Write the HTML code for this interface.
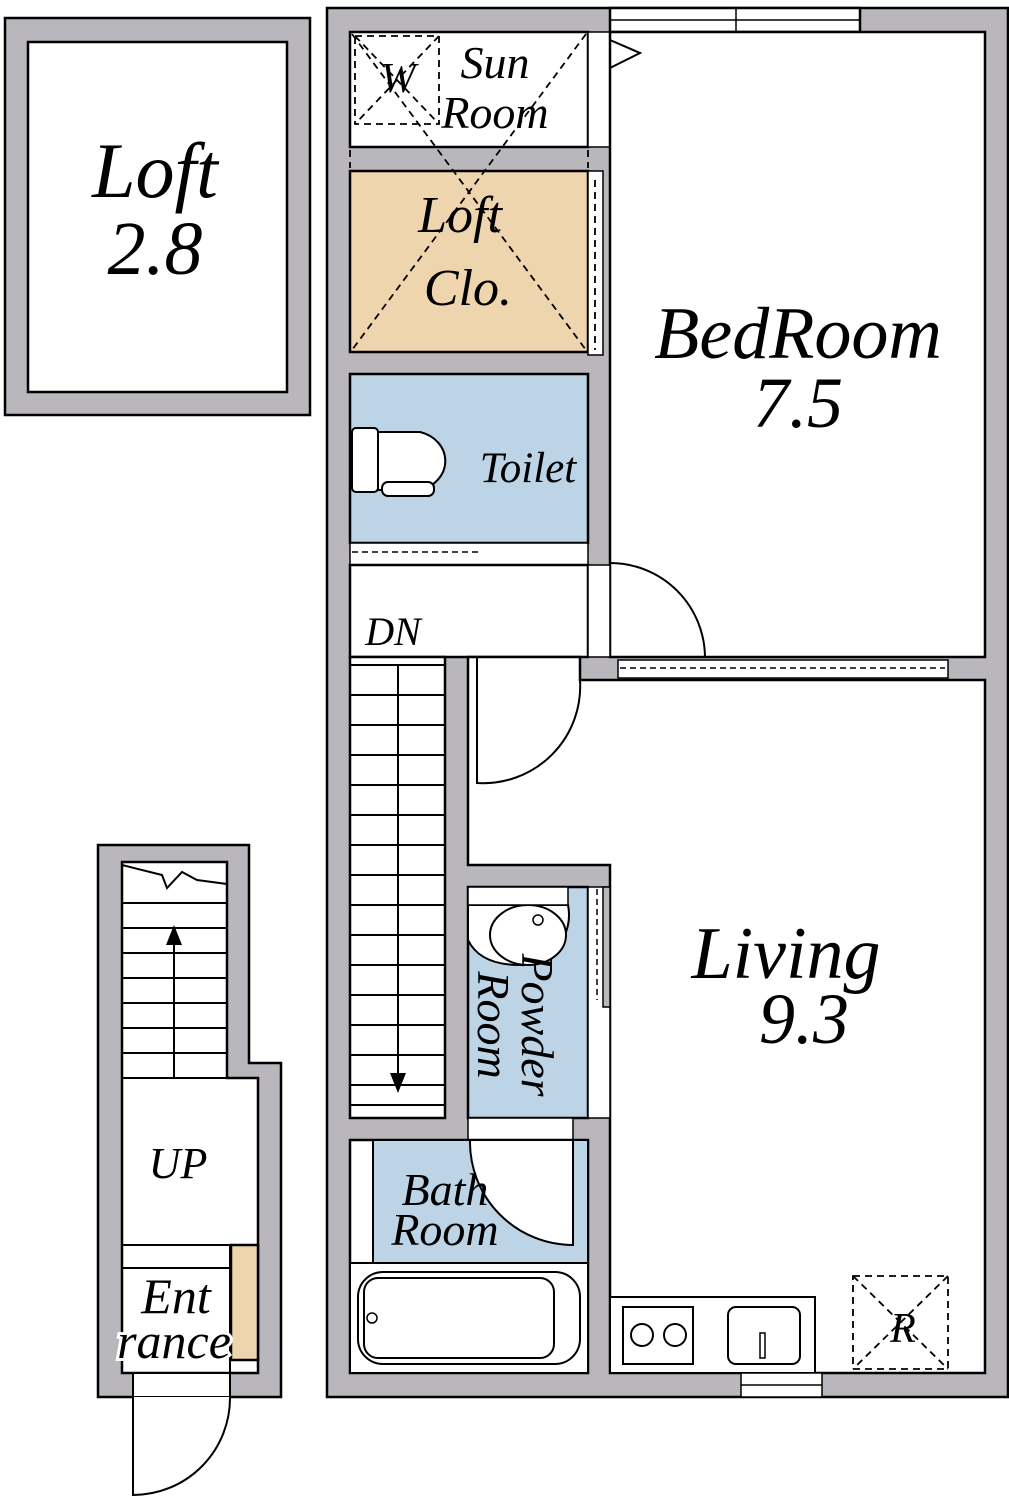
<!DOCTYPE html><html><head><style>body{margin:0;background:#fff}svg{display:block}text{font-family:"Liberation Serif",serif;font-style:italic;fill:#000}</style></head><body>
<svg width="1009" height="1500" viewBox="0 0 1009 1500" xmlns="http://www.w3.org/2000/svg" stroke="#000" stroke-width="2.5">
<g fill="#b9b7bc">
<rect x="5" y="18" width="305" height="397"/>
<polygon points="98,845 249,845 249,1063 281,1063 281,1397 98,1397"/>
<polygon points="327,8 1008,8 1008,1397 327,1397"/>
</g>
<rect x="28" y="42" width="259" height="350" fill="#fff"/>
<polygon points="122,862 227,862 227,1078 258,1078 258,1373 122,1373" fill="#fff"/>
<g stroke-width="2">
<line x1="122" y1="903" x2="227" y2="903"/><line x1="122" y1="928" x2="227" y2="928"/><line x1="122" y1="953" x2="227" y2="953"/><line x1="122" y1="978" x2="227" y2="978"/><line x1="122" y1="1003" x2="227" y2="1003"/><line x1="122" y1="1028" x2="227" y2="1028"/><line x1="122" y1="1053" x2="227" y2="1053"/><line x1="122" y1="1078" x2="227" y2="1078"/>
<line x1="174" y1="1078" x2="174" y2="935"/>
<polyline points="122,865 162,875 167,888 182,872 197,880 227,884" fill="none"/>
<line x1="122" y1="1245" x2="258" y2="1245"/><line x1="122" y1="1268" x2="230" y2="1268"/>
</g>
<polygon points="166,945 174,925 182,945" fill="#000" stroke="none"/>
<rect x="231" y="1245" width="27" height="115" fill="#efd5ae"/>
<line x1="230" y1="1245" x2="230" y2="1373" stroke-width="2"/>
<rect x="133" y="1373" width="97" height="24" fill="#fff" stroke-width="2"/>
<path d="M133,1397 V1495 A97,97 0 0 0 230,1397" fill="#fff" stroke-width="2"/>
<rect x="610" y="8" width="250" height="24" fill="#fff"/>
<line x1="610" y1="20" x2="860" y2="20" stroke-width="1.5"/><line x1="736" y1="8" x2="736" y2="32" stroke-width="1.5"/>
<rect x="350" y="32" width="238" height="115" fill="#fff"/>
<rect x="588" y="32" width="22" height="115" fill="#fff" stroke-width="1.5"/>
<rect x="350" y="171" width="238" height="181" fill="#efd5ae"/>
<rect x="588" y="171" width="15" height="184" fill="#fff" stroke-width="1.5"/>
<rect x="610" y="32" width="375" height="625" fill="#fff"/>
<polyline points="610,40 640,53 610,68" fill="none" stroke-width="2"/>
<rect x="350" y="374" width="238" height="169" fill="#bcd4e6"/>
<rect x="352" y="428" width="26" height="64" rx="4" fill="#fff" stroke-width="2"/>
<path d="M378,432 H420 A34,30 0 0 1 420,490 H378 Z" fill="#fff" stroke-width="2"/>
<rect x="382" y="482" width="52" height="14" rx="6" fill="#fff" stroke-width="2"/>
<rect x="350" y="543" width="238" height="22" fill="#fff" stroke-width="1.5"/>
<line x1="352" y1="552" x2="478" y2="552" stroke-dasharray="6,4" stroke-width="1.5"/>
<rect x="350" y="565" width="238" height="92" fill="#fff"/>
<rect x="588" y="565" width="22" height="92" fill="#fff" stroke-width="1.5"/>
<rect x="618" y="660" width="330" height="18" fill="#fff" stroke-width="1.5"/>
<line x1="620" y1="668" x2="945" y2="668" stroke-dasharray="6,4" stroke-width="1.5"/>
<path d="M610,563 A95,95 0 0 1 705,657" fill="none" stroke-width="2"/>
<rect x="350" y="657" width="95" height="461" fill="#fff"/>
<g stroke-width="2">
<line x1="350" y1="665" x2="445" y2="665"/><line x1="350" y1="695" x2="445" y2="695"/><line x1="350" y1="725" x2="445" y2="725"/><line x1="350" y1="755" x2="445" y2="755"/><line x1="350" y1="785" x2="445" y2="785"/><line x1="350" y1="815" x2="445" y2="815"/><line x1="350" y1="845" x2="445" y2="845"/><line x1="350" y1="875" x2="445" y2="875"/><line x1="350" y1="905" x2="445" y2="905"/><line x1="350" y1="935" x2="445" y2="935"/><line x1="350" y1="965" x2="445" y2="965"/><line x1="350" y1="995" x2="445" y2="995"/><line x1="350" y1="1025" x2="445" y2="1025"/><line x1="350" y1="1055" x2="445" y2="1055"/><line x1="350" y1="1085" x2="445" y2="1085"/><line x1="350" y1="1105" x2="445" y2="1105"/>
<line x1="398" y1="665" x2="398" y2="1080"/>
</g>
<polygon points="390,1073 398,1093 406,1073" fill="#000" stroke="none"/>
<polygon points="468,657 580,657 580,680 985,680 985,1373 610,1373 610,865 468,865" fill="#fff"/>
<path d="M477,657 V783 A97,97 0 0 0 580,680" fill="none" stroke-width="2"/>
<rect x="468" y="887" width="120" height="231" fill="#bcd4e6"/>
<rect x="588" y="887" width="22" height="231" fill="#fff" stroke-width="1.5"/>
<line x1="597" y1="889" x2="597" y2="1000" stroke-dasharray="6,4" stroke-width="1.5"/>
<rect x="603" y="887" width="7" height="120" fill="#b9b7bc" stroke-width="1.5"/>
<path d="M468,905 H568 A50,50 0 0 1 520,965 Q480,965 468,940 Z" fill="#fff" stroke-width="2"/>
<ellipse cx="528" cy="935" rx="38" ry="30" fill="#fff" stroke-width="2"/>
<circle cx="538" cy="920" r="5" fill="#fff" stroke-width="1.5"/>
<rect x="468" y="887" width="100" height="18" fill="#fff" stroke-width="1.5"/>
<rect x="468" y="1118" width="105" height="22" fill="#fff" stroke-width="1.5"/>
<rect x="350" y="1140" width="238" height="233" fill="#fff"/>
<rect x="373" y="1140" width="215" height="123" fill="#bcd4e6" stroke-width="2"/>
<path d="M470,1140 A103,103 0 0 0 573,1245 V1140 Z" fill="#fff" stroke-width="2"/>
<rect x="350" y="1263" width="238" height="110" fill="#fff" stroke-width="2"/>
<rect x="358" y="1272" width="222" height="92" rx="25" fill="#fff" stroke-width="2"/>
<rect x="364" y="1278" width="190" height="80" rx="14" fill="#fff" stroke-width="2"/>
<circle cx="372" cy="1318" r="5" fill="#fff" stroke-width="1.5"/>
<rect x="610" y="1297" width="205" height="76" fill="#fff" stroke-width="2"/>
<rect x="623" y="1307" width="70" height="57" fill="#fff" stroke-width="2"/>
<circle cx="642" cy="1335" r="11" fill="#fff" stroke-width="2"/><circle cx="675" cy="1335" r="11" fill="#fff" stroke-width="2"/>
<rect x="728" y="1307" width="72" height="57" rx="8" fill="#fff" stroke-width="2"/>
<rect x="760" y="1333" width="5" height="25" fill="#fff" stroke-width="1.5"/>
<rect x="741" y="1373" width="81" height="24" fill="#fff" stroke-width="1.5"/>
<line x1="741" y1="1385" x2="822" y2="1385" stroke-width="1.5"/>
<g fill="none" stroke-dasharray="7,5" stroke-width="1.8">
<rect x="355" y="36" width="84" height="88"/>
<line x1="355" y1="36" x2="439" y2="124"/><line x1="439" y1="36" x2="355" y2="124"/>
<line x1="352" y1="34" x2="586" y2="350"/><line x1="586" y1="34" x2="352" y2="350"/>
<line x1="350" y1="150" x2="350" y2="168"/><line x1="588" y1="150" x2="588" y2="168"/>
<line x1="595" y1="180" x2="595" y2="350"/>
<rect x="853" y="1276" width="95" height="93"/>
<line x1="853" y1="1276" x2="948" y2="1369"/><line x1="948" y1="1276" x2="853" y2="1369"/>
</g>
<g stroke="none">
<text x="155" y="197" font-size="78" text-anchor="middle">Loft</text>
<text x="155" y="274" font-size="76" text-anchor="middle">2.8</text>
<text x="398" y="92" font-size="42" text-anchor="middle">W</text>
<text x="495" y="78" font-size="46" text-anchor="middle">Sun</text>
<text x="495" y="128" font-size="46" text-anchor="middle">Room</text>
<text x="460" y="232" font-size="52" text-anchor="middle">Loft</text>
<text x="468" y="305" font-size="52" text-anchor="middle">Clo.</text>
<text x="798" y="358" font-size="74" text-anchor="middle">BedRoom</text>
<text x="798" y="427" font-size="72" text-anchor="middle">7.5</text>
<text x="528" y="482" font-size="43" text-anchor="middle">Toilet</text>
<text x="393" y="645" font-size="40" text-anchor="middle">DN</text>
<text x="786" y="978" font-size="74" text-anchor="middle">Living</text>
<text x="804" y="1043" font-size="72" text-anchor="middle">9.3</text>
<text transform="translate(522,1025) rotate(90)" font-size="46" text-anchor="middle">Powder</text>
<text transform="translate(478,1025) rotate(90)" font-size="46" text-anchor="middle">Room</text>
<text x="445" y="1205" font-size="46" text-anchor="middle">Bath</text>
<text x="445" y="1245" font-size="46" text-anchor="middle">Room</text>
<text x="178" y="1178" font-size="44" text-anchor="middle">UP</text>
<text x="176" y="1313" font-size="50" text-anchor="middle">Ent</text>
<text x="174" y="1358" font-size="50" text-anchor="middle" stroke="#fff" stroke-width="6" paint-order="stroke">rance</text>
<text x="903" y="1342" font-size="42" text-anchor="middle">R</text>
</g>
</svg></body></html>
